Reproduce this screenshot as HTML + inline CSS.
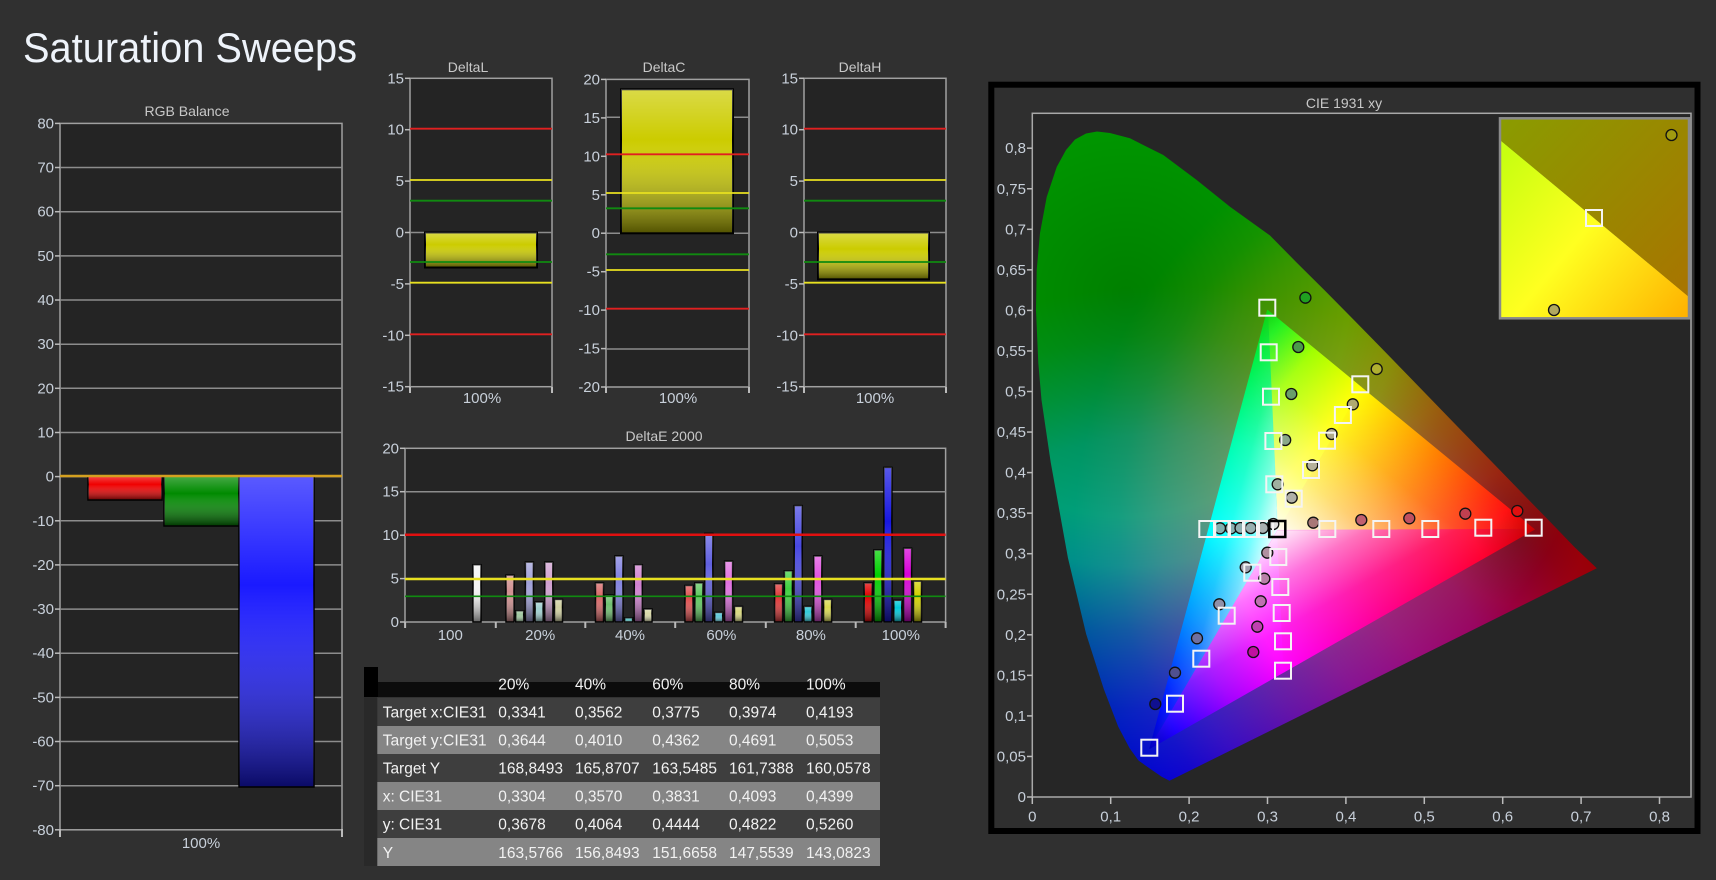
<!DOCTYPE html>
<html><head><meta charset="utf-8"><style>html,body{margin:0;padding:0;background:#303030;overflow:hidden}svg{display:block}</style></head>
<body>
<svg xmlns="http://www.w3.org/2000/svg" width="1716" height="880" viewBox="0 0 1716 880" style="font-family:'Liberation Sans',sans-serif">
<defs>
<linearGradient id="shade" x1="0" y1="0" x2="0" y2="1"><stop offset="0" stop-color="#fff" stop-opacity="0.28"/><stop offset="0.35" stop-color="#fff" stop-opacity="0"/><stop offset="1" stop-color="#000" stop-opacity="0.6"/></linearGradient>
<clipPath id="locus"><polygon points="1169.5,780.8 1161.7,776.7 1149.9,768.6 1138.5,760.5 1129.6,748.3 1118.2,726.6 1103.9,689.4 1086.2,634.2 1067.9,557.8 1050.7,462.3 1041.5,400 1038.3,363 1036,310 1036.7,270 1040,233 1046.7,197 1056.7,167 1066,150 1075,139.5 1086,133.5 1097,131.5 1110,133 1130,138.3 1163.3,155 1196.7,180 1230,206.7 1270,235.5 1296.7,262.6 1324.8,290.5 1352.7,318.8 1380.5,347.1 1407.7,375.1 1434.1,402.4 1459.4,428.5 1483.3,453 1505,475.4 1523.9,494.9 1554.3,526.1 1574.4,547 1596.8,568.3"/></clipPath>
<radialGradient id="gG" gradientUnits="userSpaceOnUse" cx="1126.4" cy="294.2" r="495"><stop offset="0" stop-color="#00ff00" stop-opacity="0.5"/><stop offset="0.45" stop-color="#00ff00" stop-opacity="0.62"/><stop offset="0.55" stop-color="#00ff00" stop-opacity="0.56"/><stop offset="0.68" stop-color="#00ff00" stop-opacity="0.35"/><stop offset="0.84" stop-color="#00ff00" stop-opacity="0.14"/><stop offset="1" stop-color="#00ff00" stop-opacity="0"/></radialGradient>
<radialGradient id="gB" gradientUnits="userSpaceOnUse" cx="1165.6" cy="780.8" r="495"><stop offset="0" stop-color="#0000ff" stop-opacity="0.82"/><stop offset="0.15" stop-color="#0000ff" stop-opacity="0.76"/><stop offset="0.3" stop-color="#0000ff" stop-opacity="0.65"/><stop offset="0.5" stop-color="#0000ff" stop-opacity="0.53"/><stop offset="0.7" stop-color="#0000ff" stop-opacity="0.38"/><stop offset="0.8" stop-color="#0000ff" stop-opacity="0.22"/><stop offset="0.9" stop-color="#0000ff" stop-opacity="0.08"/><stop offset="1" stop-color="#0000ff" stop-opacity="0"/></radialGradient>
<radialGradient id="gR" gradientUnits="userSpaceOnUse" cx="1518.4" cy="537.5" r="445"><stop offset="0" stop-color="#ff0000" stop-opacity="0.48"/><stop offset="0.15" stop-color="#ff0000" stop-opacity="0.6"/><stop offset="0.35" stop-color="#ff0000" stop-opacity="0.6"/><stop offset="0.5" stop-color="#ff0000" stop-opacity="0.53"/><stop offset="0.65" stop-color="#ff0000" stop-opacity="0.39"/><stop offset="0.8" stop-color="#ff0000" stop-opacity="0.22"/><stop offset="0.9" stop-color="#ff0000" stop-opacity="0.08"/><stop offset="1" stop-color="#ff0000" stop-opacity="0"/></radialGradient>
<linearGradient id="fRY" gradientUnits="userSpaceOnUse" x1="1534.1" y1="529.4" x2="1361" y2="387.2"><stop offset="0" stop-color="#c80000"/><stop offset="0.15" stop-color="#ff1010"/><stop offset="0.55" stop-color="#ff8000"/><stop offset="1" stop-color="#ffff00"/></linearGradient>
<linearGradient id="fYG" gradientUnits="userSpaceOnUse" x1="1361" y1="387.2" x2="1267.5" y2="310.4"><stop offset="0" stop-color="#ffff00"/><stop offset="0.5" stop-color="#a0ff00"/><stop offset="0.85" stop-color="#20f020"/><stop offset="1" stop-color="#10d010"/></linearGradient>
<linearGradient id="fGC" gradientUnits="userSpaceOnUse" x1="1267.5" y1="310.4" x2="1208.4" y2="530.4"><stop offset="0" stop-color="#10d010"/><stop offset="0.2" stop-color="#00f040"/><stop offset="0.6" stop-color="#00ffb0"/><stop offset="1" stop-color="#00ffff"/></linearGradient>
<linearGradient id="fCB" gradientUnits="userSpaceOnUse" x1="1208.4" y1="530.4" x2="1149.9" y2="748.3"><stop offset="0" stop-color="#00ffff"/><stop offset="0.4" stop-color="#0090ff"/><stop offset="0.8" stop-color="#0010ff"/><stop offset="1" stop-color="#0000c0"/></linearGradient>
<linearGradient id="fBM" gradientUnits="userSpaceOnUse" x1="1149.9" y1="748.3" x2="1283.9" y2="671.9"><stop offset="0" stop-color="#0000c0"/><stop offset="0.2" stop-color="#2000ff"/><stop offset="0.6" stop-color="#a000ff"/><stop offset="1" stop-color="#ff00ff"/></linearGradient>
<linearGradient id="fMR" gradientUnits="userSpaceOnUse" x1="1283.9" y1="671.9" x2="1534.1" y2="529.4"><stop offset="0" stop-color="#ff00ff"/><stop offset="0.4" stop-color="#ff0090"/><stop offset="0.8" stop-color="#ff0030"/><stop offset="1" stop-color="#c80000"/></linearGradient>
<linearGradient id="wRG" gradientUnits="userSpaceOnUse" x1="1277.5" y1="530.2" x2="1381.3" y2="403.9"><stop offset="0" stop-color="#fff" stop-opacity="0.95"/><stop offset="0.35" stop-color="#fff" stop-opacity="0.45"/><stop offset="0.7" stop-color="#fff" stop-opacity="0.12"/><stop offset="1" stop-color="#fff" stop-opacity="0"/></linearGradient>
<linearGradient id="wGB" gradientUnits="userSpaceOnUse" x1="1277.5" y1="530.2" x2="1213.1" y2="512.9"><stop offset="0" stop-color="#fff" stop-opacity="0.95"/><stop offset="0.35" stop-color="#fff" stop-opacity="0.45"/><stop offset="0.7" stop-color="#fff" stop-opacity="0.12"/><stop offset="1" stop-color="#fff" stop-opacity="0"/></linearGradient>
<linearGradient id="wBR" gradientUnits="userSpaceOnUse" x1="1277.5" y1="530.2" x2="1340" y2="640"><stop offset="0" stop-color="#fff" stop-opacity="0.95"/><stop offset="0.35" stop-color="#fff" stop-opacity="0.45"/><stop offset="0.7" stop-color="#fff" stop-opacity="0.12"/><stop offset="1" stop-color="#fff" stop-opacity="0"/></linearGradient>
<linearGradient id="insU" gradientUnits="userSpaceOnUse" x1="1500" y1="118" x2="1689" y2="297"><stop offset="0" stop-color="#8a9c00"/><stop offset="1" stop-color="#a87400"/></linearGradient>
<linearGradient id="insL" gradientUnits="userSpaceOnUse" x1="1500" y1="160" x2="1689" y2="318"><stop offset="0" stop-color="#c8ff10"/><stop offset="0.45" stop-color="#ffff20"/><stop offset="1" stop-color="#ffb000"/></linearGradient>
</defs>

<rect width="1716" height="880" fill="#303030"/>

<!-- Title -->
<text x="23" y="62" font-size="42" textLength="334" lengthAdjust="spacingAndGlyphs" fill="#eef3fa">Saturation Sweeps</text>

<!-- RGB Balance -->
<text x="187" y="116" font-size="14" fill="#c8c8c8" text-anchor="middle" textLength="85" lengthAdjust="spacingAndGlyphs">RGB Balance</text>
<rect x="60" y="123.4" width="282" height="706.4" fill="#242424" stroke="#a0a0a0" stroke-width="1.5"/>
<g stroke="#8c8c8c" stroke-width="1.5">
<line x1="60" x2="342" y1="167.5" y2="167.5"/><line x1="60" x2="342" y1="211.7" y2="211.7"/><line x1="60" x2="342" y1="255.9" y2="255.9"/><line x1="60" x2="342" y1="300" y2="300"/><line x1="60" x2="342" y1="344.2" y2="344.2"/><line x1="60" x2="342" y1="388.3" y2="388.3"/><line x1="60" x2="342" y1="432.5" y2="432.5"/><line x1="60" x2="342" y1="476.6" y2="476.6"/><line x1="60" x2="342" y1="520.8" y2="520.8"/><line x1="60" x2="342" y1="564.9" y2="564.9"/><line x1="60" x2="342" y1="609.1" y2="609.1"/><line x1="60" x2="342" y1="653.2" y2="653.2"/><line x1="60" x2="342" y1="697.4" y2="697.4"/><line x1="60" x2="342" y1="741.5" y2="741.5"/><line x1="60" x2="342" y1="785.7" y2="785.7"/>
</g>
<g stroke="#bbbbbb" stroke-width="1.5">
<line x1="55" x2="60" y1="123.4" y2="123.4"/><line x1="55" x2="60" y1="167.5" y2="167.5"/><line x1="55" x2="60" y1="211.7" y2="211.7"/><line x1="55" x2="60" y1="255.9" y2="255.9"/><line x1="55" x2="60" y1="300" y2="300"/><line x1="55" x2="60" y1="344.2" y2="344.2"/><line x1="55" x2="60" y1="388.3" y2="388.3"/><line x1="55" x2="60" y1="432.5" y2="432.5"/><line x1="55" x2="60" y1="476.6" y2="476.6"/><line x1="55" x2="60" y1="520.8" y2="520.8"/><line x1="55" x2="60" y1="564.9" y2="564.9"/><line x1="55" x2="60" y1="609.1" y2="609.1"/><line x1="55" x2="60" y1="653.2" y2="653.2"/><line x1="55" x2="60" y1="697.4" y2="697.4"/><line x1="55" x2="60" y1="741.5" y2="741.5"/><line x1="55" x2="60" y1="785.7" y2="785.7"/><line x1="55" x2="60" y1="829.8" y2="829.8"/>
<line x1="60" x2="60" y1="829" y2="837" stroke-width="2"/><line x1="342" x2="342" y1="829" y2="837" stroke-width="2"/>
</g>
<g font-size="15" fill="#c8d0da" text-anchor="end">
<text x="54" y="128.4">80</text><text x="54" y="172.5">70</text><text x="54" y="216.7">60</text><text x="54" y="260.9">50</text><text x="54" y="305">40</text><text x="54" y="349.2">30</text><text x="54" y="393.3">20</text><text x="54" y="437.5">10</text><text x="54" y="481.6">0</text><text x="54" y="525.8">-10</text><text x="54" y="569.9">-20</text><text x="54" y="614.1">-30</text><text x="54" y="658.2">-40</text><text x="54" y="702.4">-50</text><text x="54" y="746.5">-60</text><text x="54" y="790.7">-70</text><text x="54" y="834.8">-80</text>
</g>
<g stroke="#000" stroke-width="1.5">
<rect x="88" y="476" width="74" height="24" fill="#f00000"/>
<rect x="164" y="476" width="75" height="50" fill="#008a00"/>
<rect x="239" y="476" width="75" height="311" fill="#1a1aff"/>
</g>
<g fill="url(#shade)">
<rect x="88" y="476" width="74" height="24"/><rect x="164" y="476" width="75" height="50"/><rect x="239" y="476" width="75" height="311"/>
</g>
<line x1="60" x2="342" y1="476" y2="476" stroke="#d4a020" stroke-width="2.5"/>
<text x="201" y="848" font-size="15" fill="#c8d0da" text-anchor="middle">100%</text>

<!-- DeltaL -->
<text x="468" y="72" font-size="14" fill="#c8c8c8" text-anchor="middle">DeltaL</text>
<rect x="410" y="78.3" width="142" height="308.4" fill="#242424" stroke="#a0a0a0" stroke-width="1.5"/>
<line x1="410" x2="552" y1="232.5" y2="232.5" stroke="#8c8c8c" stroke-width="1.5"/>
<rect x="425" y="232.5" width="112" height="35" fill="#cccc00" stroke="#000" stroke-width="2"/>
<rect x="425" y="232.5" width="112" height="35" fill="url(#shade)"/>
<g stroke-width="1.8">
<line x1="410" x2="552" y1="128.7" y2="128.7" stroke="#e02020"/><line x1="410" x2="552" y1="334.3" y2="334.3" stroke="#e02020"/>
<line x1="410" x2="552" y1="180" y2="180" stroke="#e8e020"/><line x1="410" x2="552" y1="282.7" y2="282.7" stroke="#e8e020"/>
<line x1="410" x2="552" y1="200.7" y2="200.7" stroke="#108a10"/><line x1="410" x2="552" y1="262" y2="262" stroke="#108a10"/>
</g>

<!-- DeltaC -->
<text x="664" y="72" font-size="14" fill="#c8c8c8" text-anchor="middle">DeltaC</text>
<rect x="606" y="79.4" width="143" height="307.6" fill="#242424" stroke="#a0a0a0" stroke-width="1.5"/>
<g stroke="#8c8c8c" stroke-width="1.5"><line x1="606" x2="749" y1="117.3" y2="117.3"/><line x1="606" x2="749" y1="233.3" y2="233.3"/><line x1="606" x2="749" y1="349" y2="349"/></g>
<rect x="621" y="89.3" width="112" height="144" fill="#cccc00" stroke="#000" stroke-width="2"/>
<rect x="621" y="89.3" width="112" height="144" fill="url(#shade)"/>
<g stroke-width="1.8">
<line x1="606" x2="749" y1="154.3" y2="154.3" stroke="#e02020"/><line x1="606" x2="749" y1="308.7" y2="308.7" stroke="#e02020"/>
<line x1="606" x2="749" y1="193" y2="193" stroke="#e8e020"/><line x1="606" x2="749" y1="270" y2="270" stroke="#e8e020"/>
<line x1="606" x2="749" y1="208.3" y2="208.3" stroke="#108a10"/><line x1="606" x2="749" y1="254.3" y2="254.3" stroke="#108a10"/>
</g>

<!-- DeltaH -->
<text x="860" y="72" font-size="14" fill="#c8c8c8" text-anchor="middle">DeltaH</text>
<rect x="804" y="78.3" width="142" height="308.4" fill="#242424" stroke="#a0a0a0" stroke-width="1.5"/>
<line x1="804" x2="946" y1="232.5" y2="232.5" stroke="#8c8c8c" stroke-width="1.5"/>
<rect x="818" y="232.5" width="111" height="46.8" fill="#cccc00" stroke="#000" stroke-width="2"/>
<rect x="818" y="232.5" width="111" height="46.8" fill="url(#shade)"/>
<g stroke-width="1.8">
<line x1="804" x2="946" y1="128.7" y2="128.7" stroke="#e02020"/><line x1="804" x2="946" y1="334.3" y2="334.3" stroke="#e02020"/>
<line x1="804" x2="946" y1="180" y2="180" stroke="#e8e020"/><line x1="804" x2="946" y1="282.7" y2="282.7" stroke="#e8e020"/>
<line x1="804" x2="946" y1="200.7" y2="200.7" stroke="#108a10"/><line x1="804" x2="946" y1="262" y2="262" stroke="#108a10"/>
</g>

<!-- Delta axis ticks/labels -->
<g stroke="#bbbbbb" stroke-width="1.5">
<line x1="405" x2="410" y1="78.3" y2="78.3"/><line x1="405" x2="410" y1="129.7" y2="129.7"/><line x1="405" x2="410" y1="181.1" y2="181.1"/><line x1="405" x2="410" y1="232.5" y2="232.5"/><line x1="405" x2="410" y1="283.9" y2="283.9"/><line x1="405" x2="410" y1="335.3" y2="335.3"/><line x1="405" x2="410" y1="386.7" y2="386.7"/>
<line x1="410" x2="410" y1="387" y2="393" stroke-width="2"/><line x1="552" x2="552" y1="387" y2="393" stroke-width="2"/>
<line x1="601" x2="606" y1="79.4" y2="79.4"/><line x1="601" x2="606" y1="117.9" y2="117.9"/><line x1="601" x2="606" y1="156.3" y2="156.3"/><line x1="601" x2="606" y1="194.8" y2="194.8"/><line x1="601" x2="606" y1="233.2" y2="233.2"/><line x1="601" x2="606" y1="271.7" y2="271.7"/><line x1="601" x2="606" y1="310.1" y2="310.1"/><line x1="601" x2="606" y1="348.6" y2="348.6"/><line x1="601" x2="606" y1="387" y2="387"/>
<line x1="606" x2="606" y1="387" y2="393" stroke-width="2"/><line x1="749" x2="749" y1="387" y2="393" stroke-width="2"/>
<line x1="799" x2="804" y1="78.3" y2="78.3"/><line x1="799" x2="804" y1="129.7" y2="129.7"/><line x1="799" x2="804" y1="181.1" y2="181.1"/><line x1="799" x2="804" y1="232.5" y2="232.5"/><line x1="799" x2="804" y1="283.9" y2="283.9"/><line x1="799" x2="804" y1="335.3" y2="335.3"/><line x1="799" x2="804" y1="386.7" y2="386.7"/>
<line x1="804" x2="804" y1="387" y2="393" stroke-width="2"/><line x1="946" x2="946" y1="387" y2="393" stroke-width="2"/>
</g>
<g font-size="15" fill="#c8d0da" text-anchor="end">
<text x="404" y="83.3">15</text><text x="404" y="134.7">10</text><text x="404" y="186.1">5</text><text x="404" y="237.5">0</text><text x="404" y="288.9">-5</text><text x="404" y="340.3">-10</text><text x="404" y="391.7">-15</text>
<text x="600" y="84.4">20</text><text x="600" y="122.9">15</text><text x="600" y="161.3">10</text><text x="600" y="199.8">5</text><text x="600" y="238.2">0</text><text x="600" y="276.7">-5</text><text x="600" y="315.1">-10</text><text x="600" y="353.6">-15</text><text x="600" y="392">-20</text>
<text x="798" y="83.3">15</text><text x="798" y="134.7">10</text><text x="798" y="186.1">5</text><text x="798" y="237.5">0</text><text x="798" y="288.9">-5</text><text x="798" y="340.3">-10</text><text x="798" y="391.7">-15</text>
</g>
<g font-size="15" fill="#c8d0da" text-anchor="middle">
<text x="482" y="403">100%</text><text x="678" y="403">100%</text><text x="875" y="403">100%</text>
</g>

<!-- DeltaE 2000 -->
<text x="664" y="441" font-size="14" fill="#c8c8c8" text-anchor="middle">DeltaE 2000</text>
<rect x="405" y="448.3" width="540.6" height="173.7" fill="#242424" stroke="#a0a0a0" stroke-width="1.5"/>
<g stroke="#8c8c8c" stroke-width="1.5"><line x1="405" x2="945.6" y1="491.7" y2="491.7"/><line x1="405" x2="945.6" y1="535.2" y2="535.2"/><line x1="405" x2="945.6" y1="578.6" y2="578.6"/></g>
<g stroke="#000" stroke-width="1.5">
<rect x="473" y="564.7" width="8" height="57.3" fill="#f4f4f4"/>
<rect x="506" y="575.1" width="8" height="46.9" fill="#d09090"/><rect x="515.7" y="610.7" width="8" height="11.3" fill="#a0c8a0"/><rect x="525.4" y="562.1" width="8" height="59.9" fill="#a0a0d8"/><rect x="535.1" y="602" width="8" height="20" fill="#a0d0d0"/><rect x="544.8" y="562.1" width="8" height="59.9" fill="#d0a0d0"/><rect x="554.5" y="599.4" width="8" height="22.6" fill="#d0d0a0"/>
<rect x="595.5" y="582.9" width="8" height="39.1" fill="#d86868"/><rect x="605.2" y="595.1" width="8" height="26.9" fill="#70c070"/><rect x="614.9" y="556" width="8" height="66" fill="#8080e0"/><rect x="624.6" y="617.7" width="8" height="4.3" fill="#60c8c8"/><rect x="634.3" y="564.7" width="8" height="57.3" fill="#d080d0"/><rect x="644" y="609" width="8" height="13" fill="#d8d8a8"/>
<rect x="685" y="585.5" width="8" height="36.5" fill="#e05050"/><rect x="694.9" y="582.9" width="8" height="39.1" fill="#60c860"/><rect x="704.8" y="533.4" width="8" height="88.6" fill="#6060e0"/><rect x="714.7" y="612.4" width="8" height="9.6" fill="#60c8d8"/><rect x="724.6" y="561.2" width="8" height="60.8" fill="#e070e0"/><rect x="734.5" y="606.4" width="8" height="15.6" fill="#d8d880"/>
<rect x="774.6" y="583.8" width="8" height="38.2" fill="#e03838"/><rect x="784.4" y="570.8" width="8" height="51.2" fill="#40d040"/><rect x="794.2" y="505.6" width="8" height="116.4" fill="#4848e0"/><rect x="804" y="606.4" width="8" height="15.6" fill="#30c8d8"/><rect x="813.8" y="556" width="8" height="66" fill="#e050e0"/><rect x="823.6" y="599.4" width="8" height="22.6" fill="#d8d850"/>
<rect x="864.2" y="582.9" width="8" height="39.1" fill="#e00000"/><rect x="874" y="549.9" width="8" height="72.1" fill="#00d000"/><rect x="883.9" y="467.4" width="8" height="154.6" fill="#1818e0"/><rect x="893.8" y="600.3" width="8" height="21.7" fill="#00c8d8"/><rect x="903.6" y="548.2" width="8" height="73.8" fill="#d800d8"/><rect x="913.5" y="581.2" width="8" height="40.8" fill="#d0d000"/>
</g>
<g fill="url(#shade)">
<rect x="473" y="564.7" width="8" height="57.3"/>
<rect x="506" y="575.1" width="8" height="46.9"/><rect x="515.7" y="610.7" width="8" height="11.3"/><rect x="525.4" y="562.1" width="8" height="59.9"/><rect x="535.1" y="602" width="8" height="20"/><rect x="544.8" y="562.1" width="8" height="59.9"/><rect x="554.5" y="599.4" width="8" height="22.6"/>
<rect x="595.5" y="582.9" width="8" height="39.1"/><rect x="605.2" y="595.1" width="8" height="26.9"/><rect x="614.9" y="556" width="8" height="66"/><rect x="624.6" y="617.7" width="8" height="4.3"/><rect x="634.3" y="564.7" width="8" height="57.3"/><rect x="644" y="609" width="8" height="13"/>
<rect x="685" y="585.5" width="8" height="36.5"/><rect x="694.9" y="582.9" width="8" height="39.1"/><rect x="704.8" y="533.4" width="8" height="88.6"/><rect x="714.7" y="612.4" width="8" height="9.6"/><rect x="724.6" y="561.2" width="8" height="60.8"/><rect x="734.5" y="606.4" width="8" height="15.6"/>
<rect x="774.6" y="583.8" width="8" height="38.2"/><rect x="784.4" y="570.8" width="8" height="51.2"/><rect x="794.2" y="505.6" width="8" height="116.4"/><rect x="804" y="606.4" width="8" height="15.6"/><rect x="813.8" y="556" width="8" height="66"/><rect x="823.6" y="599.4" width="8" height="22.6"/>
<rect x="864.2" y="582.9" width="8" height="39.1"/><rect x="874" y="549.9" width="8" height="72.1"/><rect x="883.9" y="467.4" width="8" height="154.6"/><rect x="893.8" y="600.3" width="8" height="21.7"/><rect x="903.6" y="548.2" width="8" height="73.8"/><rect x="913.5" y="581.2" width="8" height="40.8"/>
</g>
<line x1="405" x2="945.6" y1="534.7" y2="534.7" stroke="#e01010" stroke-width="2.5"/>
<line x1="405" x2="945.6" y1="579" y2="579" stroke="#e8e020" stroke-width="2.5"/>
<line x1="405" x2="945.6" y1="596.3" y2="596.3" stroke="#108a10" stroke-width="1.6"/>
<g stroke="#bbbbbb" stroke-width="1.5">
<line x1="400" x2="405" y1="448.3" y2="448.3"/><line x1="400" x2="405" y1="491.7" y2="491.7"/><line x1="400" x2="405" y1="535.2" y2="535.2"/><line x1="400" x2="405" y1="578.6" y2="578.6"/><line x1="400" x2="405" y1="622" y2="622"/>
<line x1="405.1" x2="405.1" y1="622" y2="628" stroke-width="2"/><line x1="495.8" x2="495.8" y1="622" y2="628" stroke-width="2"/><line x1="585.3" x2="585.3" y1="622" y2="628" stroke-width="2"/><line x1="675.2" x2="675.2" y1="622" y2="628" stroke-width="2"/><line x1="765.8" x2="765.8" y1="622" y2="628" stroke-width="2"/><line x1="855.7" x2="855.7" y1="622" y2="628" stroke-width="2"/><line x1="945.6" x2="945.6" y1="622" y2="628" stroke-width="2"/>
</g>
<g font-size="15" fill="#c8d0da" text-anchor="end">
<text x="399" y="453.3">20</text><text x="399" y="496.7">15</text><text x="399" y="540.2">10</text><text x="399" y="583.6">5</text><text x="399" y="627">0</text>
</g>
<g font-size="15" fill="#c8d0da" text-anchor="middle">
<text x="450.3" y="640">100</text><text x="540.2" y="640">20%</text><text x="630" y="640">40%</text><text x="721.4" y="640">60%</text><text x="810.9" y="640">80%</text><text x="900.8" y="640">100%</text>
</g>

<!-- Table -->
<rect x="364" y="667" width="14" height="30" fill="#000"/>
<rect x="378" y="682" width="502" height="15.3" fill="#0c0c0c"/>
<rect x="364" y="697.3" width="14" height="168.7" fill="#292929"/>
<rect x="377.3" y="697.3" width="502.7" height="28.7" fill="#3e3e3e"/>
<rect x="377.3" y="726" width="502.7" height="28" fill="#858585"/>
<rect x="377.3" y="754" width="502.7" height="28" fill="#3e3e3e"/>
<rect x="377.3" y="782" width="502.7" height="28" fill="#858585"/>
<rect x="377.3" y="810" width="502.7" height="28" fill="#3e3e3e"/>
<rect x="377.3" y="838" width="502.7" height="28" fill="#858585"/>
<g font-size="15.5" fill="#f2f2f2">
<text x="498.3" y="689.5">20%</text><text x="575" y="689.5">40%</text><text x="652.3" y="689.5">60%</text><text x="729" y="689.5">80%</text><text x="806" y="689.5">100%</text>
<text x="382.7" y="717.5" textLength="104" lengthAdjust="spacingAndGlyphs">Target x:CIE31</text><text x="498.3" y="717.5">0,3341</text><text x="575" y="717.5">0,3562</text><text x="652.3" y="717.5">0,3775</text><text x="729" y="717.5">0,3974</text><text x="806" y="717.5">0,4193</text>
<text x="382.7" y="745.5" textLength="104" lengthAdjust="spacingAndGlyphs">Target y:CIE31</text><text x="498.3" y="745.5">0,3644</text><text x="575" y="745.5">0,4010</text><text x="652.3" y="745.5">0,4362</text><text x="729" y="745.5">0,4691</text><text x="806" y="745.5">0,5053</text>
<text x="382.7" y="773.5">Target Y</text><text x="498.3" y="773.5">168,8493</text><text x="575" y="773.5">165,8707</text><text x="652.3" y="773.5">163,5485</text><text x="729" y="773.5">161,7388</text><text x="806" y="773.5">160,0578</text>
<text x="382.7" y="801.5">x: CIE31</text><text x="498.3" y="801.5">0,3304</text><text x="575" y="801.5">0,3570</text><text x="652.3" y="801.5">0,3831</text><text x="729" y="801.5">0,4093</text><text x="806" y="801.5">0,4399</text>
<text x="382.7" y="829.5">y: CIE31</text><text x="498.3" y="829.5">0,3678</text><text x="575" y="829.5">0,4064</text><text x="652.3" y="829.5">0,4444</text><text x="729" y="829.5">0,4822</text><text x="806" y="829.5">0,5260</text>
<text x="382.7" y="858">Y</text><text x="498.3" y="858">163,5766</text><text x="575" y="858">156,8493</text><text x="652.3" y="858">151,6658</text><text x="729" y="858">147,5539</text><text x="806" y="858">143,0823</text>
</g>

<!-- CIE 1931 -->
<rect x="991.3" y="84.7" width="706.2" height="746.3" fill="#2f2f2f" stroke="#000" stroke-width="6"/>
<text x="1344" y="108" font-size="14" fill="#c8c8c8" text-anchor="middle">CIE 1931 xy</text>
<rect x="1032.3" y="113.3" width="658.7" height="683.7" fill="#262626" stroke="#a8a8a8" stroke-width="1.5"/>
<g clip-path="url(#locus)" style="isolation:isolate">
<rect x="1030" y="120" width="580" height="670" fill="#000"/>
<rect x="1030" y="120" width="580" height="670" fill="url(#gG)" style="mix-blend-mode:screen"/>
<rect x="1030" y="120" width="580" height="670" fill="url(#gB)" style="mix-blend-mode:screen"/>
<rect x="1030" y="120" width="580" height="670" fill="url(#gR)" style="mix-blend-mode:screen"/>
</g>
<g stroke-width="1" stroke-linejoin="round">
<polygon points="1277.5,530.2 1534.1,529.4 1361,387.2" fill="url(#fRY)" stroke="url(#fRY)"/>
<polygon points="1277.5,530.2 1361,387.2 1267.5,310.4" fill="url(#fYG)" stroke="url(#fYG)"/>
<polygon points="1277.5,530.2 1267.5,310.4 1208.4,530.4" fill="url(#fGC)" stroke="url(#fGC)"/>
<polygon points="1277.5,530.2 1208.4,530.4 1149.9,748.3" fill="url(#fCB)" stroke="url(#fCB)"/>
<polygon points="1277.5,530.2 1149.9,748.3 1283.9,671.9" fill="url(#fBM)" stroke="url(#fBM)"/>
<polygon points="1277.5,530.2 1283.9,671.9 1534.1,529.4" fill="url(#fMR)" stroke="url(#fMR)"/>
</g>
<polygon points="1277.5,530.2 1534.1,529.4 1267.5,310.4" fill="url(#wRG)"/>
<polygon points="1277.5,530.2 1267.5,310.4 1149.9,748.3" fill="url(#wGB)"/>
<polygon points="1277.5,530.2 1149.9,748.3 1534.1,529.4" fill="url(#wBR)"/>

<!-- CIE markers: measured circles -->
<g stroke="#111" stroke-width="1.3">
<circle cx="1305.4" cy="297.7" r="5.5" fill="#20a020"/><circle cx="1298.3" cy="347" r="5.5" fill="#4a9a4a"/><circle cx="1291.3" cy="394" r="5.5" fill="#6a9e6a"/><circle cx="1285.2" cy="440" r="5.5" fill="#8aa88a"/><circle cx="1277.7" cy="484.3" r="5.5" fill="#a0b0a0"/>
<circle cx="1376.7" cy="369" r="5.5" fill="#b0b030"/><circle cx="1352.8" cy="404.3" r="5.5" fill="#b0aa70"/><circle cx="1331.6" cy="434" r="5.5" fill="#b0aa88"/><circle cx="1312.3" cy="465.3" r="5.5" fill="#b4b09c"/><circle cx="1291.7" cy="497.7" r="5.5" fill="#b0b0a8"/>
<circle cx="1517.3" cy="511" r="5.5" fill="#e01010"/><circle cx="1465.3" cy="513.7" r="5.5" fill="#c04050"/><circle cx="1409.3" cy="518.3" r="5.5" fill="#c05060"/><circle cx="1361.3" cy="520" r="5.5" fill="#c06070"/><circle cx="1313.3" cy="522.7" r="5.5" fill="#a87878"/>
<circle cx="1220" cy="528.3" r="5.5" fill="#80b0b0"/><circle cx="1231" cy="528.3" r="5.5" fill="#88b0b0"/><circle cx="1240.5" cy="528" r="5.5" fill="#90b0b0"/><circle cx="1250.7" cy="528" r="5.5" fill="#98b0b0"/><circle cx="1262.7" cy="528" r="5.5" fill="#a8b0b0"/>
<circle cx="1273.3" cy="524" r="5.5" fill="#e0e0e0"/>
<circle cx="1253.3" cy="652" r="5.5" fill="#c010a0"/><circle cx="1257.3" cy="626.7" r="5.5" fill="#c040b0"/><circle cx="1260.7" cy="601.3" r="5.5" fill="#c070b0"/><circle cx="1264.3" cy="578.7" r="5.5" fill="#b880a8"/><circle cx="1267.3" cy="552.7" r="5.5" fill="#b090a0"/>
<circle cx="1155.3" cy="704" r="5.5" fill="#101090"/><circle cx="1175" cy="672.7" r="5.5" fill="#505090"/><circle cx="1197" cy="638.3" r="5.5" fill="#7070a0"/><circle cx="1219.3" cy="604.3" r="5.5" fill="#9090a8"/><circle cx="1245.7" cy="567.3" r="5.5" fill="#a0a0b0"/>
</g>
<!-- target squares -->
<g fill="none" stroke="#f4f4f4" stroke-width="2">
<rect x="1259.3" y="299.7" width="16" height="16"/><rect x="1260.7" y="344.3" width="16" height="16"/><rect x="1263" y="388.7" width="16" height="16"/><rect x="1265.4" y="433" width="16" height="16"/><rect x="1266.3" y="476.3" width="16" height="16"/>
<rect x="1352.3" y="376.3" width="16" height="16"/><rect x="1334.9" y="407" width="16" height="16"/><rect x="1319" y="432.7" width="16" height="16"/><rect x="1303" y="462" width="16" height="16"/><rect x="1285.7" y="490.7" width="16" height="16"/>
<rect x="1525.7" y="519.7" width="16" height="16"/><rect x="1475.3" y="519.7" width="16" height="16"/><rect x="1422.3" y="521" width="16" height="16"/><rect x="1373.3" y="521" width="16" height="16"/><rect x="1319.3" y="521" width="16" height="16"/>
<rect x="1199.3" y="521" width="16" height="16"/><rect x="1214" y="521" width="16" height="16"/><rect x="1228.5" y="521" width="16" height="16"/><rect x="1243" y="521" width="16" height="16"/><rect x="1257" y="521" width="16" height="16"/>
<rect x="1275" y="662.7" width="16" height="16"/><rect x="1275" y="633.3" width="16" height="16"/><rect x="1273.7" y="605" width="16" height="16"/><rect x="1272.3" y="579" width="16" height="16"/><rect x="1270.3" y="549" width="16" height="16"/>
<rect x="1141.3" y="739.7" width="16" height="16"/><rect x="1167" y="695.7" width="16" height="16"/><rect x="1193.3" y="650.7" width="16" height="16"/><rect x="1218.7" y="607.7" width="16" height="16"/><rect x="1244.3" y="564.7" width="16" height="16"/>
</g>
<rect x="1269.3" y="521" width="16" height="16" fill="none" stroke="#000" stroke-width="2.5"/>

<!-- Inset -->
<polygon points="1500,118 1689,118 1689,297 1500,140" fill="url(#insU)"/>
<polygon points="1500,140 1689,297 1689,318 1500,318" fill="url(#insL)"/>
<rect x="1500" y="118.3" width="189" height="200" fill="none" stroke="#8a8a8a" stroke-width="2.5"/>
<rect x="1586" y="210" width="16" height="16" fill="none" stroke="#f4f4f4" stroke-width="2"/>
<circle cx="1671.5" cy="135" r="5.5" fill="#a09a10" stroke="#111" stroke-width="1.3"/>
<circle cx="1554" cy="310" r="5.5" fill="#b0a860" stroke="#111" stroke-width="1.3"/>

<!-- CIE axes -->
<g stroke="#bbbbbb" stroke-width="1.5">
<line x1="1027" x2="1032" y1="797" y2="797"/><line x1="1027" x2="1032" y1="756.45" y2="756.45"/><line x1="1027" x2="1032" y1="715.9" y2="715.9"/><line x1="1027" x2="1032" y1="675.35" y2="675.35"/><line x1="1027" x2="1032" y1="634.8" y2="634.8"/><line x1="1027" x2="1032" y1="594.25" y2="594.25"/><line x1="1027" x2="1032" y1="553.7" y2="553.7"/><line x1="1027" x2="1032" y1="513.15" y2="513.15"/><line x1="1027" x2="1032" y1="472.6" y2="472.6"/><line x1="1027" x2="1032" y1="432.05" y2="432.05"/><line x1="1027" x2="1032" y1="391.5" y2="391.5"/><line x1="1027" x2="1032" y1="350.95" y2="350.95"/><line x1="1027" x2="1032" y1="310.4" y2="310.4"/><line x1="1027" x2="1032" y1="269.85" y2="269.85"/><line x1="1027" x2="1032" y1="229.3" y2="229.3"/><line x1="1027" x2="1032" y1="188.75" y2="188.75"/><line x1="1027" x2="1032" y1="148.2" y2="148.2"/>
<line x1="1032.3" x2="1032.3" y1="797" y2="804"/><line x1="1110.7" x2="1110.7" y1="797" y2="804"/><line x1="1189.1" x2="1189.1" y1="797" y2="804"/><line x1="1267.5" x2="1267.5" y1="797" y2="804"/><line x1="1345.9" x2="1345.9" y1="797" y2="804"/><line x1="1424.3" x2="1424.3" y1="797" y2="804"/><line x1="1502.7" x2="1502.7" y1="797" y2="804"/><line x1="1581.1" x2="1581.1" y1="797" y2="804"/><line x1="1659.5" x2="1659.5" y1="797" y2="804"/>
</g>
<g font-size="15" fill="#c8d0da" text-anchor="end">
<text x="1026" y="802">0</text><text x="1026" y="761.5">0,05</text><text x="1026" y="720.9">0,1</text><text x="1026" y="680.4">0,15</text><text x="1026" y="639.8">0,2</text><text x="1026" y="599.3">0,25</text><text x="1026" y="558.7">0,3</text><text x="1026" y="518.2">0,35</text><text x="1026" y="477.6">0,4</text><text x="1026" y="437.1">0,45</text><text x="1026" y="396.5">0,5</text><text x="1026" y="356">0,55</text><text x="1026" y="315.4">0,6</text><text x="1026" y="274.9">0,65</text><text x="1026" y="234.3">0,7</text><text x="1026" y="193.8">0,75</text><text x="1026" y="153.2">0,8</text>
</g>
<g font-size="15" fill="#c8d0da" text-anchor="middle">
<text x="1032.3" y="821.5">0</text><text x="1110.7" y="821.5">0,1</text><text x="1189.1" y="821.5">0,2</text><text x="1267.5" y="821.5">0,3</text><text x="1345.9" y="821.5">0,4</text><text x="1424.3" y="821.5">0,5</text><text x="1502.7" y="821.5">0,6</text><text x="1581.1" y="821.5">0,7</text><text x="1659.5" y="821.5">0,8</text>
</g>
</svg>
</body></html>
